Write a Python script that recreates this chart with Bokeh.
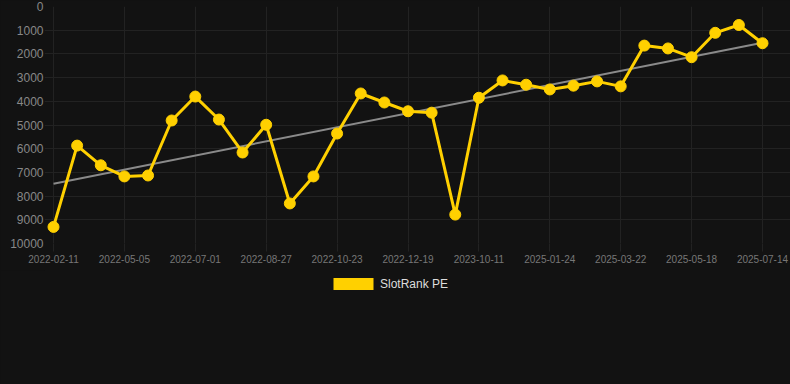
import numpy as np
from bokeh.plotting import figure
from bokeh.layouts import column
from bokeh.models import Range1d, FixedTicker, NumeralTickFormatter, Legend, LegendItem, ColumnDataSource
from bokeh.embed import file_html
from bokeh.resources import INLINE

# ---- data ----
tick_labels = ["2022-02-11", "2022-05-05", "2022-07-01", "2022-08-27", "2022-10-23",
               "2022-12-19", "2023-10-11", "2025-01-24", "2025-03-22", "2025-05-18", "2025-07-14"]
rank_values = [9300, 5870, 6700, 7170, 7130, 4810, 3800, 4770, 6160, 4990,
               8310, 7170, 5360, 3670, 4050, 4420, 4480, 8780, 3850, 3120,
               3300, 3500, 3340, 3160, 3370, 1650, 1770, 2140, 1110, 780, 1550]
series_name = "SlotRank PE"

BG = "#121212"
GRID = "#222222"
YELLOW = "#FFD000"
FONT = "Liberation Sans"

n = len(rank_values)
xs = list(range(n))
tick_pos = list(range(0, n, 3))

FRAME_LEFT = 44
STEP = 709 / 30.0
x_start = -(53 - FRAME_LEFT) / STEP
x_end = x_start + (790 - FRAME_LEFT) / STEP

TOP_H = 270
p = figure(width=790, height=TOP_H, output_backend="svg", toolbar_location=None,
           x_range=Range1d(x_start, x_end), y_range=Range1d(10000, 0),
           min_border_left=FRAME_LEFT, min_border_right=0, min_border_top=6,
           min_border_bottom=TOP_H - 243,
           background_fill_color=BG, border_fill_color=BG, outline_line_color=None)

# axes
p.xaxis.ticker = FixedTicker(ticks=tick_pos)
p.xaxis.major_label_overrides = {pos: lab for pos, lab in zip(tick_pos, tick_labels)}
p.xaxis.minor_tick_line_color = None
p.xaxis.axis_line_color = None
p.xaxis.major_tick_line_color = GRID
p.xaxis.major_tick_out = 8
p.xaxis.major_tick_in = 0
p.xaxis.major_label_standoff = 3
p.xaxis.major_label_text_color = "#777777"
p.xaxis.major_label_text_font = FONT
p.xaxis.major_label_text_font_size = "10px"

p.yaxis.ticker = FixedTicker(ticks=list(range(0, 10001, 1000)))
p.yaxis.formatter = NumeralTickFormatter(format="0")
p.yaxis.minor_tick_line_color = None
p.yaxis.axis_line_color = None
p.yaxis.major_tick_line_color = None
p.yaxis.major_tick_out = 0
p.yaxis.major_tick_in = 0
p.yaxis.major_label_standoff = 1
p.yaxis.major_label_text_color = "#888888"
p.yaxis.major_label_text_font = FONT
p.yaxis.major_label_text_font_size = "12px"

p.xgrid.ticker = FixedTicker(ticks=tick_pos)
p.xgrid.grid_line_color = GRID
p.ygrid.grid_line_color = GRID

# trend line (least squares)
coef = np.polyfit(xs, rank_values, 1)
trend_x = [xs[0], xs[-1]]
trend_y = [float(np.polyval(coef, v)) for v in trend_x]
p.line(trend_x, trend_y, line_color="#8a8a8a", line_width=2)

src = ColumnDataSource(dict(x=xs, y=rank_values))
p.line("x", "y", source=src, line_color=YELLOW, line_width=3)
p.scatter("x", "y", source=src, size=11, fill_color=YELLOW, line_color=YELLOW)

# legend strip below the chart
LEG_H = 384 - TOP_H
p2 = figure(width=790, height=LEG_H, output_backend="svg", toolbar_location=None,
            x_range=Range1d(0, 790), y_range=Range1d(0, LEG_H),
            x_axis_location=None, y_axis_location=None,
            min_border_left=0, min_border_right=0, min_border_top=0, min_border_bottom=0,
            background_fill_color=BG, border_fill_color=BG, outline_line_color=None)
p2.grid.visible = False
leg_r = p2.rect(x=[np.nan], y=[np.nan], width=1, height=1, fill_color=YELLOW, line_color=None)
legend = Legend(items=[LegendItem(label=series_name, renderers=[leg_r])],
                location=(284, LEG_H - 7 - 14), orientation="horizontal",
                glyph_width=50, glyph_height=15, label_standoff=2, padding=0, margin=0,
                border_line_color=None, background_fill_alpha=0,
                label_text_color="#dddddd", label_text_font=FONT, label_text_font_size="12px")
p2.add_layout(legend, "center")

layout = column(p, p2, spacing=0)
html = file_html(layout, INLINE)
html = html.replace("</head>", "<style>html,body{margin:0;padding:0;background:#121212;}</style></head>", 1)
open("out.html", "w").write(html)
